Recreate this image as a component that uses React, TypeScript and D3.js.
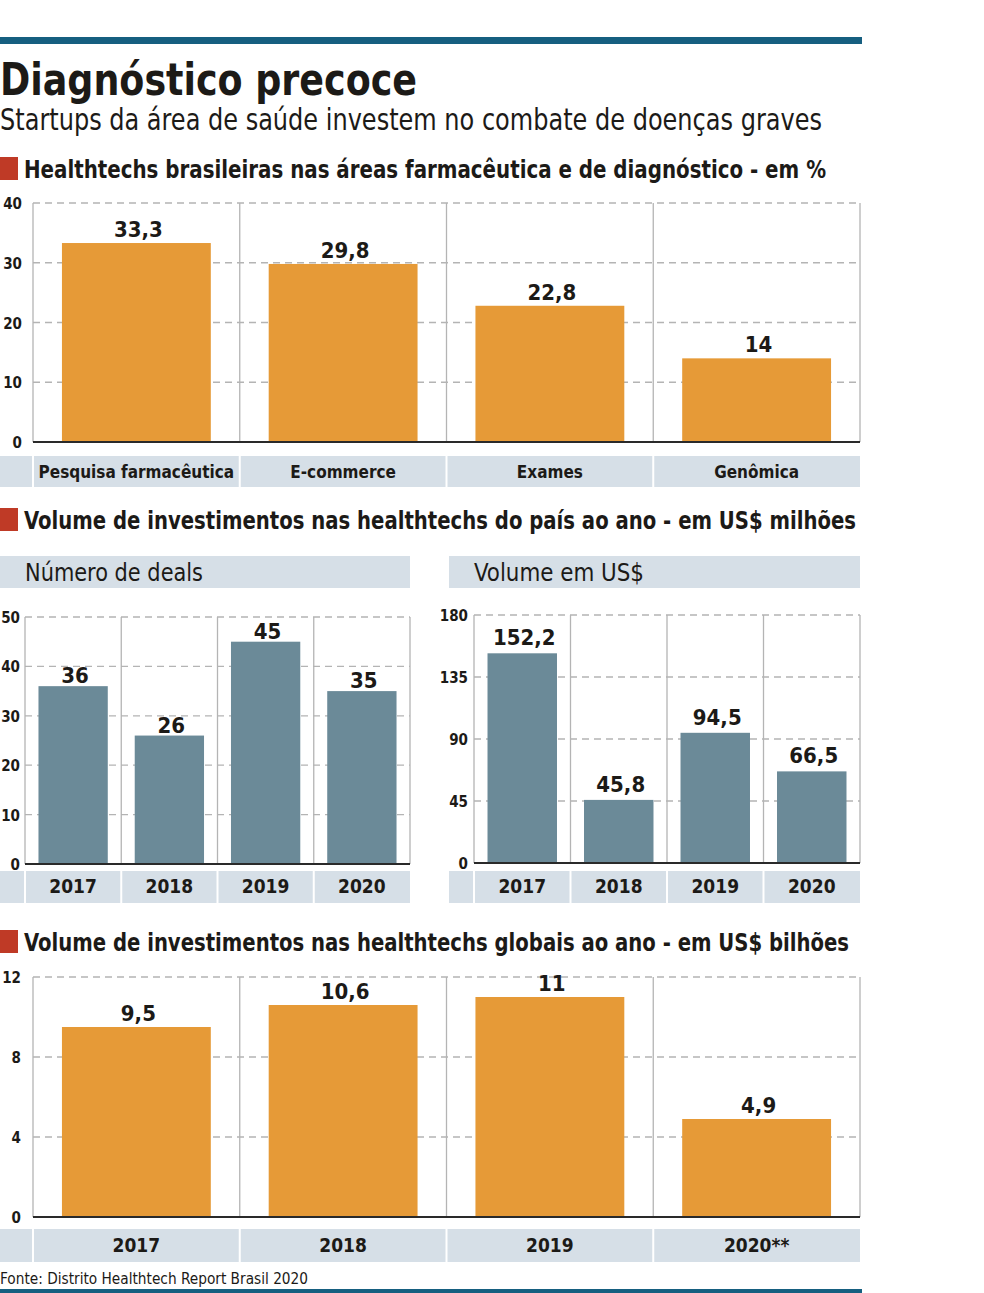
import React from "react";
import * as d3 from "d3";

const areaCategories = ["Pesquisa farmacêutica", "E-commerce", "Exames", "Genômica"];
const areaShares = [33.3, 29.8, 22.8, 14];
const areaTicks = [0, 10, 20, 30, 40];

const dealYears = ["2017", "2018", "2019", "2020"];
const dealCounts = [36, 26, 45, 35];
const dealTicks = [0, 10, 20, 30, 40, 50];

const volumeYears = ["2017", "2018", "2019", "2020"];
const brVolumes = [152.2, 45.8, 94.5, 66.5];
const brTicks = [0, 45, 90, 135, 180];

const globalYears = ["2017", "2018", "2019", "2020**"];
const globalVolumes = [9.5, 10.6, 11, 4.9];
const globalTicks = [0, 4, 8, 12];

const ORANGE = "#e69a37";
const SLATE = "#6b8a98";
const STRIP = "#d6dfe7";
const RED = "#bf3a26";
const RULE = "#165f80";
const INK = "#1c1a17";
const GRID = "#b4b4b4";
const FONT = "'Liberation Sans Narrow', 'DejaVu Sans Condensed', Roboto, 'Noto Sans', sans-serif";

const fmt = (v: number) => String(v).replace(".", ",");

type PanelProps = {
  categories: string[];
  values: number[];
  ticks: number[];
  color: string;
  left: number;
  right: number;
  top: number;
  bottom: number;
  stripLeft: number;
  stripTop: number;
  stripHeight: number;
  tickRight: number;
  labelGap: number;
  catFontSize: number;
};

function BarPanel(p: PanelProps) {
  const x = d3.scaleBand<string>().domain(p.categories).range([p.left, p.right]).padding(0);
  const y = d3.scaleLinear().domain([0, d3.max(p.ticks) as number]).range([p.bottom, p.top]);
  const bw = x.bandwidth();
  const barW = bw * 0.72;
  return (
    <g>
      {p.ticks.filter((t) => t > 0).map((t) => (
        <line key={"g" + t} x1={p.left} x2={p.right} y1={y(t)} y2={y(t)} stroke={GRID} strokeWidth={1.3} strokeDasharray="7,5" />
      ))}
      {p.categories.map((c) => (
        <line key={"s" + c} x1={x(c)} x2={x(c)} y1={p.top} y2={p.bottom} stroke={GRID} strokeWidth={1.3} />
      ))}
      <line x1={p.right} x2={p.right} y1={p.top} y2={p.bottom} stroke={GRID} strokeWidth={1.3} />
      {p.categories.map((c, i) => (
        <rect key={"b" + c} x={(x(c) as number) + (bw - barW) / 2} y={y(p.values[i])} width={barW} height={p.bottom - y(p.values[i])} fill={p.color} />
      ))}
      <line x1={p.left} x2={p.right} y1={p.bottom} y2={p.bottom} stroke="#2a2a2a" strokeWidth={2} />
      {p.categories.map((c, i) => (
        <text key={"v" + c} x={(x(c) as number) + bw / 2 + 2} y={y(p.values[i]) - p.labelGap} textAnchor="middle" fontFamily={FONT} fontWeight="bold" fontSize={22} fill={INK}>
          {fmt(p.values[i])}
        </text>
      ))}
      {p.ticks.map((t) => (
        <text key={"t" + t} x={p.tickRight} y={y(t) + 6} textAnchor="end" fontFamily={FONT} fontWeight="bold" fontSize={15} fill={INK}>
          {t}
        </text>
      ))}
      <rect x={p.stripLeft} y={p.stripTop} width={p.right - p.stripLeft} height={p.stripHeight} fill={STRIP} />
      {p.categories.map((c) => (
        <line key={"w" + c} x1={x(c)} x2={x(c)} y1={p.stripTop} y2={p.stripTop + p.stripHeight} stroke="#fff" strokeWidth={2} />
      ))}
      {p.categories.map((c) => (
        <text key={"c" + c} x={(x(c) as number) + bw / 2} y={p.stripTop + p.stripHeight / 2 + 6} textAnchor="middle" fontFamily={FONT} fontWeight="bold" fontSize={p.catFontSize} fill={INK}>
          {c}
        </text>
      ))}
    </g>
  );
}

function SectionHeader({ y, text, width }: { y: number; text: string; width: number }) {
  return (
    <g>
      <rect x={0} y={y - 21} width={18} height={23} fill={RED} />
      <text x={24} y={y} fontFamily={FONT} fontWeight="bold" fontSize={25} fill={INK} textLength={width} lengthAdjust="spacingAndGlyphs">
        {text}
      </text>
    </g>
  );
}

export default function App() {
  return (
    <svg width={984} height={1293} style={{ position: "absolute", left: 0, top: 0, background: "#fff" }}>
      <rect x={0} y={37} width={862} height={7} fill={RULE} />
      <text x={0} y={95} fontFamily={FONT} fontWeight="bold" fontSize={44} fill={INK} textLength={417} lengthAdjust="spacingAndGlyphs">
        Diagnóstico precoce
      </text>
      <text x={0} y={130} fontFamily={FONT} fontWeight="300" fontSize={30} fill={INK} textLength={822} lengthAdjust="spacingAndGlyphs">
        Startups da área de saúde investem no combate de doenças graves
      </text>

      <SectionHeader y={178} width={802} text="Healthtechs brasileiras nas áreas farmacêutica e de diagnóstico - em %" />
      <BarPanel categories={areaCategories} values={areaShares} ticks={areaTicks} color={ORANGE}
        left={33} right={860} top={203} bottom={442} stripLeft={0} stripTop={456} stripHeight={31}
        tickRight={22} labelGap={6} catFontSize={17} />

      <SectionHeader y={529} width={832} text="Volume de investimentos nas healthtechs do país ao ano - em US$ milhões" />
      <rect x={0} y={556} width={410} height={32} fill={STRIP} />
      <text x={25} y={581} fontFamily={FONT} fontSize={25} fill={INK} textLength={178} lengthAdjust="spacingAndGlyphs">Número de deals</text>
      <rect x={449} y={556} width={411} height={32} fill={STRIP} />
      <text x={474} y={581} fontFamily={FONT} fontSize={25} fill={INK} textLength={170} lengthAdjust="spacingAndGlyphs">Volume em US$</text>

      <BarPanel categories={dealYears} values={dealCounts} ticks={dealTicks} color={SLATE}
        left={25} right={410} top={617} bottom={864} stripLeft={0} stripTop={871} stripHeight={32}
        tickRight={20} labelGap={3} catFontSize={19} />
      <BarPanel categories={volumeYears} values={brVolumes} ticks={brTicks} color={SLATE}
        left={474} right={860} top={615} bottom={863} stripLeft={449} stripTop={871} stripHeight={32}
        tickRight={468} labelGap={8} catFontSize={19} />

      <SectionHeader y={951} width={825} text="Volume de investimentos nas healthtechs globais ao ano - em US$ bilhões" />
      <BarPanel categories={globalYears} values={globalVolumes} ticks={globalTicks} color={ORANGE}
        left={33} right={860} top={977} bottom={1217} stripLeft={0} stripTop={1229} stripHeight={33}
        tickRight={21} labelGap={6} catFontSize={19} />

      <text x={0} y={1284} fontFamily={FONT} fontSize={16} fill={INK} textLength={308} lengthAdjust="spacingAndGlyphs">
        Fonte: Distrito Healthtech Report Brasil 2020
      </text>
      <rect x={0} y={1289} width={862} height={4} fill={RULE} />
    </svg>
  );
}
